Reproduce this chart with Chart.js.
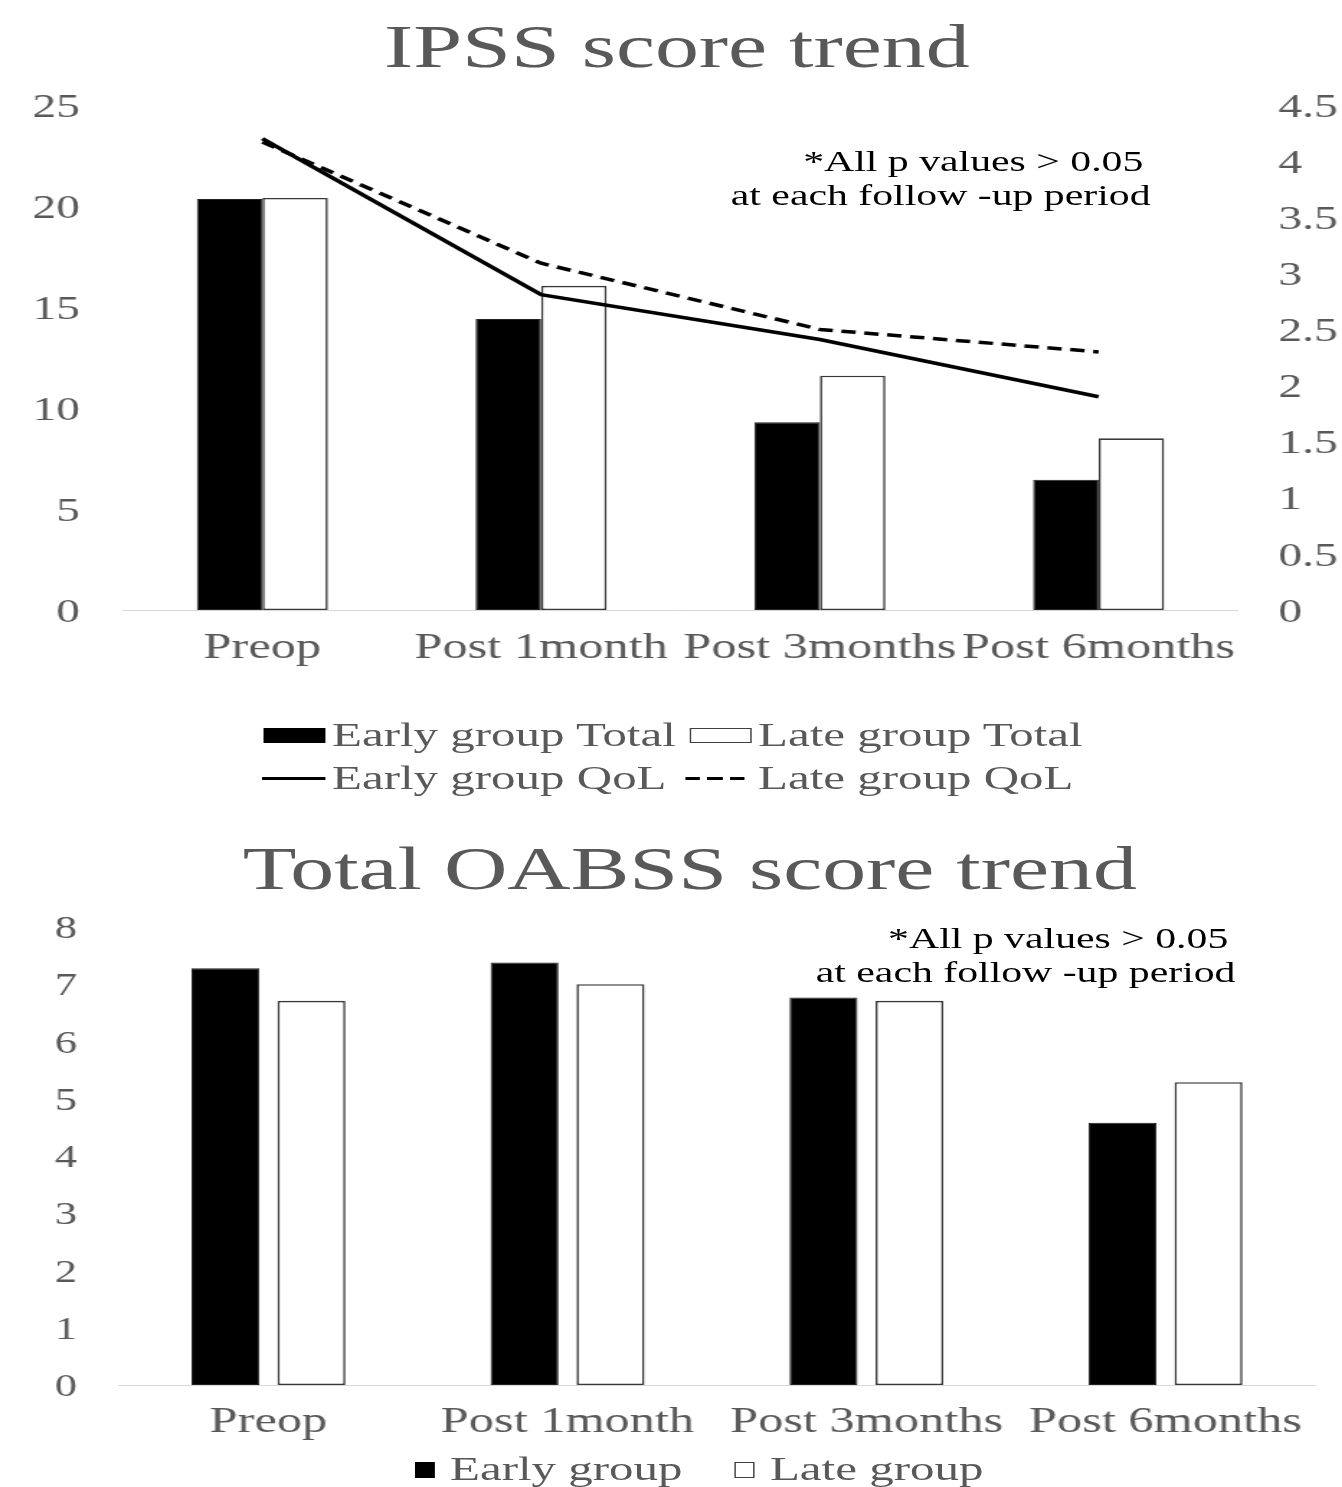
<!DOCTYPE html>
<html>
<head>
<meta charset="utf-8">
<script src="https://cdn.jsdelivr.net/npm/chart.js@4/dist/chart.umd.min.js"></script>
<style>
  html, body { margin: 0; padding: 0; background: #fff; overflow: hidden; }
  /* The figure is laid out in a narrower frame and widened horizontally */
  #stage { position: absolute; left: 0; top: 0; width: 932px; height: 1487px;
           transform: scaleX(1.44); transform-origin: 0 0;
           font-family: "Liberation Serif", "Times New Roman", serif; }
  canvas { position: absolute; left: 0; }
  .t { position: absolute; white-space: nowrap; line-height: 1; }
  .gray { color: #595959; }
  .note { color: #000; font-size: 29px; text-align: right; }
  .sw { position: absolute; box-sizing: border-box; }
  .dash { position: absolute; top: 776.5px; width: 10.4px; height: 3px; background: #000; }
</style>
</head>
<body>
<div id="stage">
  <canvas id="ipss" width="932" height="700" style="top:0;width:932px;height:700px"></canvas>
  <canvas id="oabss" width="932" height="687" style="top:800px;width:932px;height:687px"></canvas>

  <!-- IPSS panel -->
  <div class="t gray" style="left:70px;width:800px;text-align:center;top:16px;font-size:61px">IPSS score trend</div>
  <div class="t note" style="right:138px;top:147px">*All p values &gt; 0.05</div>
  <div class="t note" style="right:133px;top:181px">at each follow -up period</div>

  <div class="sw" style="left:182.6px;top:728px;width:43px;height:15px;background:#000"></div>
  <div class="t gray" style="left:230.6px;top:718px;font-size:34px">Early group Total</div>
  <div class="sw" style="left:479px;top:728px;width:43px;height:15px;background:#fff;border:1.5px solid #404040"></div>
  <div class="t gray" style="left:526.4px;top:718px;font-size:34px">Late group Total</div>

  <div class="sw" style="left:182px;top:776.5px;width:43.5px;height:3px;background:#000"></div>
  <div class="t gray" style="left:230.6px;top:761px;font-size:34px">Early group QoL</div>
  <div class="dash" style="left:476px"></div>
  <div class="dash" style="left:491.3px"></div>
  <div class="dash" style="left:506.6px"></div>
  <div class="t gray" style="left:526.4px;top:761px;font-size:34px">Late group QoL</div>

  <!-- OABSS panel -->
  <div class="t gray" style="left:79px;width:800px;text-align:center;top:838px;font-size:61px">Total OABSS score trend</div>
  <div class="t note" style="right:79px;top:924px">*All p values &gt; 0.05</div>
  <div class="t note" style="right:74px;top:958px">at each follow -up period</div>

  <div class="sw" style="left:288px;top:1462px;width:14px;height:16px;background:#000"></div>
  <div class="t gray" style="left:312.5px;top:1452px;font-size:34px">Early group</div>
  <div class="sw" style="left:510.4px;top:1462px;width:14px;height:16px;background:#fff;border:1.5px solid #404040"></div>
  <div class="t gray" style="left:534.7px;top:1452px;font-size:34px">Late group</div>
</div>

<script>
// Follow-up time points
const categories = ['Preop', 'Post 1month', 'Post 3months', 'Post 6months'];

// IPSS total score (left axis)
const ipssEarlyTotal = [20.35, 14.4, 9.3, 6.45];
const ipssLateTotal  = [20.4, 16.05, 11.6, 8.5];

// IPSS quality-of-life score (right axis)
const qolEarly = [4.2, 2.81, 2.41, 1.9];
const qolLate  = [4.17, 3.09, 2.5, 2.3];

// Total OABSS score
const oabssEarly = [7.28, 7.38, 6.77, 4.58];
const oabssLate  = [6.71, 7.0, 6.71, 5.29];

// Axis ranges and steps
const ipssTicks = { min: 0, max: 25, step: 5 };
const qolTicks  = { min: 0, max: 4.5, step: 0.5 };
const oabssTicks = { min: 0, max: 8, step: 1 };

const FONT = '"Liberation Serif", "Times New Roman", serif';
const GRAY = '#595959';

const commonPlugins = { legend: { display: false }, tooltip: { enabled: false }, title: { display: false } };

function xAxis(padding, height) {
  return {
    type: 'category',
    offset: true,
    grid: { display: true, drawOnChartArea: false, drawTicks: false },
    border: { display: true, color: '#d9d9d9', width: 1 },
    ticks: { autoSkip: false, maxRotation: 0, minRotation: 0, padding: padding,
             color: GRAY, font: { family: FONT, size: 35 } },
    afterFit(s) { s.height = height; }
  };
}

function yAxis(pos, range, padding, width, size) {
  return {
    position: pos,
    min: range.min, max: range.max,
    grid: { display: false },
    border: { display: false },
    ticks: { stepSize: range.step, padding: padding, labelOffset: 3, color: GRAY,
             font: { family: FONT, size: size },
             callback: v => String(Math.round(v * 10) / 10) },
    afterFit(s) { s.width = width; }
  };
}

new Chart(document.getElementById('ipss'), {
  type: 'bar',
  data: {
    labels: categories,
    datasets: [
      { type: 'line', label: 'Early group QoL', data: qolEarly, yAxisID: 'y1',
        borderColor: '#000', borderWidth: 3.5, pointRadius: 0, tension: 0, fill: false, order: 0 },
      { type: 'line', label: 'Late group QoL', data: qolLate, yAxisID: 'y1',
        borderColor: '#000', borderWidth: 3.5, borderDash: [10, 6], pointRadius: 0, tension: 0, fill: false, order: 0 },
      { type: 'bar', label: 'Early group Total', data: ipssEarlyTotal, yAxisID: 'y',
        backgroundColor: '#000', borderColor: '#222', borderWidth: 1, borderSkipped: false,
        categoryPercentage: 0.47, barPercentage: 1, order: 1 },
      { type: 'bar', label: 'Late group Total', data: ipssLateTotal, yAxisID: 'y',
        backgroundColor: '#fff', borderColor: '#3a3a3a', borderWidth: 1.6, borderSkipped: false,
        categoryPercentage: 0.47, barPercentage: 1, order: 1 }
    ]
  },
  options: {
    responsive: false, animation: false, events: [],
    layout: { padding: { top: 105, left: 0, right: 0, bottom: 0 } },
    plugins: commonPlugins,
    scales: {
      x: xAxis(18, 90),
      y: yAxis('left', ipssTicks, 22, 85.4, 33),
      y1: yAxis('right', qolTicks, 20, 72.3, 33)
    }
  }
});

new Chart(document.getElementById('oabss'), {
  type: 'bar',
  data: {
    labels: categories,
    datasets: [
      { label: 'Early group', data: oabssEarly, backgroundColor: '#000', borderColor: '#222',
        borderWidth: 1, borderSkipped: false, categoryPercentage: 0.575, barPercentage: 0.79 },
      { label: 'Late group', data: oabssLate, backgroundColor: '#fff', borderColor: '#3a3a3a',
        borderWidth: 1.6, borderSkipped: false, categoryPercentage: 0.575, barPercentage: 0.79 }
    ]
  },
  options: {
    responsive: false, animation: false, events: [],
    layout: { padding: { top: 127, left: 0, right: 18.8, bottom: 0 } },
    plugins: commonPlugins,
    scales: {
      x: xAxis(17, 102),
      y: yAxis('left', oabssTicks, 21, 82.6, 31)
    }
  }
});
</script>
</body>
</html>
